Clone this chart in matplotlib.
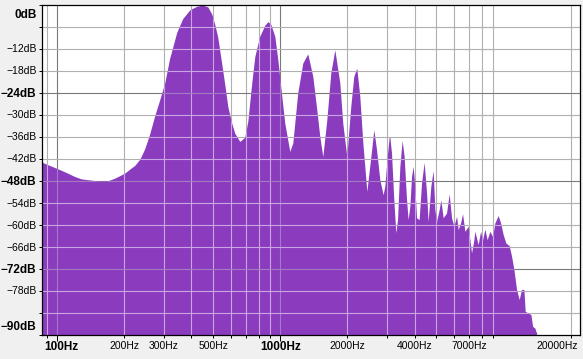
import matplotlib
matplotlib.use("Agg")
import matplotlib.pyplot as plt
from matplotlib.patches import PathPatch
from matplotlib.ticker import FixedLocator, FixedFormatter, NullFormatter

# ---- data (frequency in Hz, level in dB) ----
freq_hz = [85, 91, 98, 109, 120, 129, 141, 156, 168, 182, 192, 202, 213, 224, 236,
           248, 261, 275, 290, 305, 321, 345, 367, 395, 425, 452, 476, 496, 511, 527,
           550, 567, 585, 609, 628, 662, 697, 719, 749, 773, 813, 857, 884, 911, 950,
           980, 1021, 1053, 1109, 1144, 1204, 1268, 1335, 1406, 1465, 1511, 1559, 1625,
           1693, 1765, 1858, 1916, 1997, 2081, 2147, 2214, 2284, 2357, 2456, 2560, 2640,
           2714, 2808, 2905, 2957, 3028, 3090, 3114, 3168, 3244, 3313, 3372, 3453, 3536,
           3610, 3700, 3761, 3828, 3896, 3961, 4031, 4102, 4214, 4320, 4437, 4549, 4624,
           4754, 4869, 4956, 5043, 5180, 5272, 5399, 5591, 5744, 5888, 6030, 6200, 6304,
           6462, 6597, 6755, 6989, 7237, 7413, 7489, 7749, 7943, 8110, 8305, 8503, 8743,
           8990, 9207, 9526, 9766, 10031, 10315, 10673, 10940, 11203, 11520, 11834,
           12131, 12422, 12589, 12986, 13354, 13590, 13917, 14061, 14162]
level_db = [-43.0, -43.8, -44.6, -45.8, -47.0, -47.7, -48.0, -48.3, -48.3, -47.5, -46.8,
            -46.1, -45.0, -44.0, -42.3, -39.5, -35.5, -30.5, -26.0, -21.5, -14.8, -7.8,
            -4.0, -1.6, -0.6, -0.3, -0.8, -2.8, -5.5, -9.0, -16.5, -22.0, -28.0, -32.5,
            -35.2, -37.5, -36.3, -32.0, -21.5, -14.3, -8.8, -5.8, -4.8, -5.5, -8.8, -15.2,
            -25.2, -32.5, -40.2, -37.9, -24.2, -16.1, -13.6, -19.7, -28.8, -36.1, -41.6,
            -31.6, -18.8, -12.5, -21.5, -32.5, -41.6, -27.9, -19.7, -17.5, -25.2, -37.9,
            -51.1, -41.6, -34.3, -39.7, -47.9, -52.0, -49.7, -42.0, -36.5, -36.3, -40.6,
            -53.4, -62.4, -58.8, -44.3, -37.2, -41.6, -53.4, -58.8, -55.2, -47.0, -44.3,
            -49.7, -58.3, -58.8, -48.8, -43.2, -51.5, -59.3, -49.7, -45.4, -56.1, -59.3,
            -56.1, -53.4, -58.3, -57.0, -51.8, -58.3, -60.6, -57.9, -61.5, -59.7, -57.2,
            -62.0, -60.6, -67.9, -64.3, -62.0, -65.6, -62.0, -64.3, -61.4, -64.3, -62.0,
            -63.4, -59.7, -57.7, -59.7, -62.9, -65.2, -65.9, -68.8, -72.4, -77.9, -80.6,
            -77.8, -77.9, -83.8, -84.3, -84.7, -87.9, -88.4, -89.3, -89.6]

grid_freqs = [90, 100, 200, 300, 400, 500, 600, 700, 800, 900, 1000,
              2000, 3000, 4000, 5000, 6000, 7000, 8000, 9000, 20000]
major_freqs = [100, 1000]
minor_freqs = [f for f in grid_freqs if f not in major_freqs]
x_label_freqs = [100, 200, 300, 500, 1000, 2000, 4000, 7000, 20000]
x_label_texts = ["100Hz", "200Hz", "300Hz", "500Hz", "1000Hz", "2000Hz", "4000Hz",
                 "7000Hz", "20000Hz"]
db_ticks = [0, -6, -12, -18, -24, -30, -36, -42, -48, -54, -60, -66, -72, -78, -84, -90]
db_major = [-24, -48, -72]

PURPLE = "#8a3bbe"
GRID = "#b0b0b0"
GRID_MAJOR = "#7a7a7a"
GRID_ON_FILL = "#c9a6e2"
GRID_MAJOR_ON_FILL = "#a27cbe"
FONT = "Liberation Sans"

fig = plt.figure(figsize=(5.83, 3.59), dpi=100, facecolor="#f0f0f0")
W, H = 583, 359
left, right, top, bottom = 42, 580, 4.5, 334.5
ax = fig.add_axes([left / W, (H - bottom) / H, (right - left) / W, (bottom - top) / H])
ax.set_facecolor("white")
ax.set_xscale("log")
ax.set_xlim(85.5, 22050)
ax.set_ylim(-90, 0)

poly = ax.fill_between(freq_hz, level_db, -120, color=PURPLE, lw=0, zorder=2)
clip = PathPatch(poly.get_paths()[0], transform=ax.transData)

for f in grid_freqs:
    mj = f in major_freqs
    ax.axvline(f, color=GRID_MAJOR if mj else GRID, lw=0.8, zorder=1)
    ln = ax.axvline(f, color=GRID_MAJOR_ON_FILL if mj else GRID_ON_FILL, lw=0.8, zorder=3)
    ln.set_clip_path(clip)
for d in db_ticks[1:-1]:
    mj = d in db_major
    ax.axhline(d, color=GRID_MAJOR if mj else GRID, lw=0.8, zorder=1)
    ln = ax.axhline(d, color=GRID_MAJOR_ON_FILL if mj else GRID_ON_FILL, lw=0.8, zorder=3)
    ln.set_clip_path(clip)

for s in ax.spines.values():
    s.set_color("black")
    s.set_linewidth(0.9)
    s.set_zorder(5)

# x ticks (labels drawn as annotations for exact placement)
ax.xaxis.set_major_locator(FixedLocator(major_freqs))
ax.xaxis.set_major_formatter(NullFormatter())
ax.xaxis.set_minor_locator(FixedLocator(minor_freqs))
ax.xaxis.set_minor_formatter(NullFormatter())
ax.tick_params(axis="x", which="major", length=4.5, width=0.7, colors="black")
ax.tick_params(axis="x", which="minor", length=2.5, width=0.7, colors="black")

for f, txt in zip(x_label_freqs, x_label_texts):
    bold = f in major_freqs
    dx, ha = 0, "center"
    if f == 100:
        dx = 3.7
    if f == 20000:
        dx, ha = 7.5, "right"
    ax.annotate(txt, xy=(f, 0), xycoords=("data", "axes fraction"),
                xytext=(dx, -13 if bold else -11.5), textcoords="offset pixels",
                ha=ha, va="center", fontfamily=FONT,
                fontsize=8.5 if bold else 7.5, fontweight="bold" if bold else "normal",
                annotation_clip=False)

# y ticks
ax.yaxis.set_major_locator(FixedLocator(db_ticks))
ylabels = []
for d in db_ticks:
    if d in (0, -6, -84, -90):
        ylabels.append("")
    else:
        ylabels.append("\u2212%ddB" % (-d))
ax.yaxis.set_major_formatter(FixedFormatter(ylabels))
ax.tick_params(axis="y", which="major", length=2.5, width=0.7, pad=1.5, colors="black")
for d, t in zip(db_ticks, ax.yaxis.get_majorticklabels()):
    t.set_fontfamily(FONT)
    if d in db_major:
        t.set_fontsize(8.5); t.set_fontweight("bold")
    else:
        t.set_fontsize(7.5)

ax.annotate("0dB", xy=(0, 0), xycoords=("axes fraction", "data"), xytext=(-5.5, -10),
            textcoords="offset pixels", ha="right", va="center", fontfamily=FONT,
            fontsize=8.5, fontweight="bold", annotation_clip=False)
ax.annotate("\u221290dB", xy=(0, -90), xycoords=("axes fraction", "data"), xytext=(-5.5, 8),
            textcoords="offset pixels", ha="right", va="center", fontfamily=FONT,
            fontsize=8.5, fontweight="bold", annotation_clip=False)

fig.savefig("out.png", dpi=100, facecolor=fig.get_facecolor())
